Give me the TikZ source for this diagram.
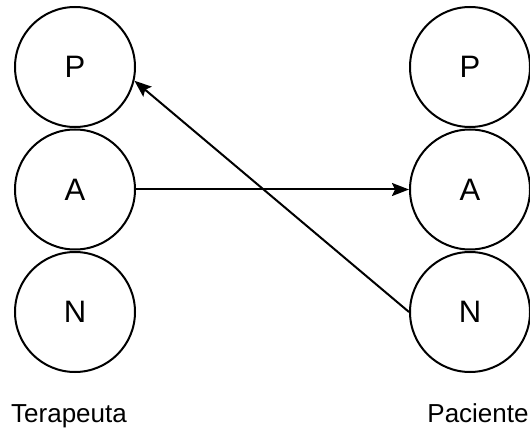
\documentclass[tikz,border=0pt]{standalone}
\usepackage{fontspec}
\setmainfont{Liberation Sans}
\usetikzlibrary{arrows.meta}
\begin{document}
\begin{tikzpicture}[x=1pt,y=-1pt,
  state/.style={draw, circle, line width=2pt, minimum size=120pt, inner sep=0pt,
    font=\fontsize{31}{36}\selectfont},
  role/.style={font=\fontsize{26}{31}\selectfont, inner sep=0pt},
  link/.style={line width=2pt, -{Stealth[length=17pt,width=13pt,inset=3pt]}}]
  \useasboundingbox (0,0) rectangle (530,430);
  % therapist column
  \node[state] (tP) at (75,67) {P};
  \node[state] (tA) at (75,189.5) {A};
  \node[state] (tN) at (75,312) {N};
  % patient column
  \node[state] (pP) at (470,67) {P};
  \node[state] (pA) at (470,189.5) {A};
  \node[state] (pN) at (470,312) {N};
  % transactions
  \draw[link] (tA.east) -- (pA.west);
  \draw[link] (pN.west) -- (tP.-13);
  % captions
  \node[role, anchor=base] (tl) at (69,422) {Terapeuta};
  \node[role, anchor=base] (pl) at (478,422) {Paciente};
\end{tikzpicture}
\end{document}
